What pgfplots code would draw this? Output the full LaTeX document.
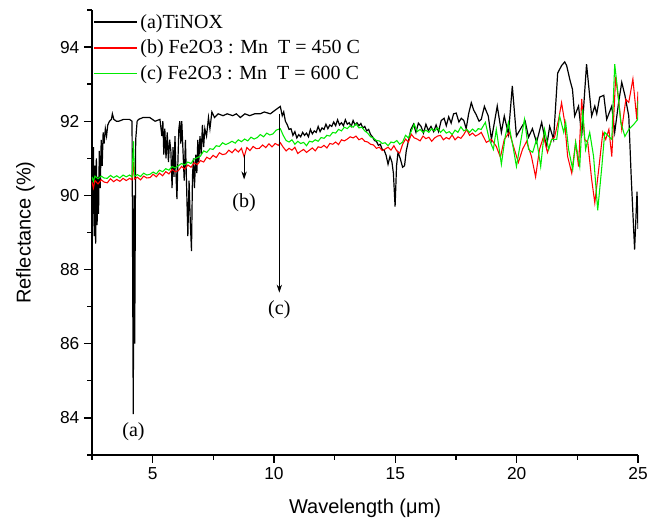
\documentclass[border=0pt]{standalone}
\usepackage{pgfplots}
\pgfplotsset{compat=1.18}
\usepackage{fontspec}
\setmainfont{Liberation Sans}
\newfontfamily\tnr{Liberation Serif}
\usetikzlibrary{arrows.meta}

\definecolor{cred}{RGB}{255,0,0}
\definecolor{cgreen}{RGB}{0,235,0}

\begin{document}
\begin{tikzpicture}
\begin{axis}[
    scale only axis,
    width=409.5pt, height=333.75pt,
    xmin=2.5, xmax=25, ymin=83, ymax=95,
    axis lines=left,
    axis line style={-, line width=1.1pt},
    tick align=outside,
    major tick length=6pt, minor tick length=3.5pt,
    tick style={black, line width=1pt},
    xtick={5,10,15,20,25},
    minor xtick={2.5,7.5,12.5,17.5,22.5},
    ytick={84,86,88,90,92,94},
    minor ytick={83,85,87,89,91,93,95},
    /pgf/number format/assume math mode=true,
    tick label style={font=\fontsize{13}{15}\selectfont},
    xlabel={Wavelength (μm)},
    ylabel={Reflectance (\%)},
    label style={font=\fontsize{15}{18}\selectfont},
    xlabel style={at={(axis description cs:0.5,-0.119)}, anchor=center},
    ylabel style={at={(axis description cs:-0.122,0.5)}, anchor=center},
    clip=true,
    legend cell align=left,
    legend style={at={(axis description cs:0.0,1.0)}, anchor=north west,
        draw=none, fill=none, font=\tnr\fontsize{15}{18}\selectfont,
        row sep=3.3pt, inner sep=1pt},
    legend image code/.code={\draw[#1, line width=1.1pt] (0pt,0pt) -- (32pt,0pt);},
]

% (a) TiNOX
\addplot[black, line width=0.9pt] table {
x y
2.50 91.6
2.53 89.5
2.56 91.3
2.59 88.9
2.62 90.8
2.65 88.7
2.68 91.0
2.71 89.2
2.74 90.5
2.77 89.5
2.80 91.2
2.84 90.2
2.88 91.5
2.92 90.8
2.96 91.7
3.00 91.4
3.05 91.8
3.10 91.6
3.15 91.9
3.22 92.0
3.30 92.05
3.34 92.2
3.40 92.05
3.51 92.0
3.60 92.0
3.80 92.05
4.05 92.05
4.15 92.0
4.20 84.1
4.23 90.0
4.26 86.0
4.30 91.5
4.36 92.0
4.42 92.05
4.60 92.1
4.88 92.1
5.10 92.0
5.30 92.05
5.38 91.6
5.42 92.0
5.46 91.1
5.50 91.8
5.55 91.0
5.60 91.7
5.65 90.9
5.70 91.5
5.75 91.2
5.80 90.2
5.84 91.3
5.88 90.5
5.92 91.6
5.96 90.6
6.00 89.9
6.04 90.9
6.08 91.8
6.12 92.0
6.16 91.4
6.20 92.0
6.25 91.2
6.30 90.4
6.35 91.5
6.40 90.2
6.45 88.9
6.50 90.4
6.55 89.3
6.60 88.5
6.64 90.5
6.68 91.0
6.72 90.2
6.78 91.1
6.82 90.6
6.86 91.5
6.90 90.9
6.95 91.6
7.00 91.1
7.05 91.9
7.10 91.3
7.15 91.8
7.22 91.6
7.30 92.1
7.36 91.8
7.44 92.25
7.55 92.1
7.70 92.2
7.90 92.15
8.07 92.2
8.30 92.15
8.45 92.2
8.61 92.1
8.80 92.2
9.00 92.15
9.20 92.2
9.43 92.2
9.60 92.25
9.85 92.2
10.05 92.3
10.26 92.4
10.34 92.15
10.40 92.25
10.47 92.0
10.55 91.9
10.62 91.78
10.70 91.80
10.78 91.62
10.86 91.72
10.94 91.55
11.02 91.64
11.10 91.58
11.18 91.70
11.26 91.62
11.34 91.68
11.42 91.58
11.50 91.78
11.58 91.66
11.66 91.74
11.74 91.70
11.82 91.86
11.90 91.72
11.98 91.82
12.06 91.78
12.14 91.92
12.22 91.80
12.30 91.90
12.38 91.86
12.46 91.98
12.54 91.88
12.62 92.04
12.70 91.90
12.78 91.96
12.86 91.88
12.94 92.04
13.02 91.92
13.10 91.96
13.18 91.86
13.26 92.02
13.34 91.90
13.42 91.96
13.50 91.88
13.58 91.94
13.66 91.82
13.74 91.86
13.82 91.74
13.90 91.78
13.98 91.64
14.06 91.58
14.14 91.48
14.22 91.46
14.30 91.35
14.38 91.38
14.46 91.24
14.54 91.22
14.62 91.08
14.70 90.84
14.78 91.05
14.86 90.9
14.92 90.6
14.99 89.7
15.05 90.8
15.11 91.16
15.20 91.0
15.30 90.76
15.38 90.8
15.45 91.2
15.55 91.5
15.64 91.78
15.75 91.92
15.85 91.7
15.95 91.95
16.06 91.86
16.16 91.68
16.26 91.92
16.36 91.75
16.47 91.86
16.58 91.72
16.68 91.9
16.78 91.72
16.89 92.02
17.01 92.08
17.10 91.88
17.20 92.12
17.30 91.95
17.40 92.2
17.51 92.22
17.62 91.98
17.72 92.08
17.82 92.02
17.92 91.8
18.02 92.2
18.13 92.5
18.23 92.3
18.33 92.18
18.45 92.0
18.54 92.05
18.67 92.4
18.83 92.14
18.96 91.51
19.20 92.41
19.37 91.7
19.49 92.14
19.66 91.65
19.82 92.95
19.99 91.6
20.20 91.84
20.35 92.0
20.49 91.57
20.65 91.8
20.82 91.43
21.03 91.97
21.23 91.3
21.36 91.86
21.52 91.51
21.69 93.3
21.85 93.5
21.98 93.6
22.06 93.5
22.20 93.1
22.30 92.86
22.39 92.14
22.55 92.41
22.68 91.6
22.88 93.54
23.09 92.14
23.22 92.41
23.30 92.2
23.42 92.65
23.59 92.7
23.71 92.05
23.92 92.41
24.04 91.7
24.20 92.5
24.33 93.05
24.46 92.7
24.62 92.14
24.72 90.5
24.86 88.54
24.96 90.1
25.00 89.1
};
\addlegendentry{(a)TiNOX}

% (b) Fe2O3:Mn 450 C
\addplot[cred, line width=0.8pt] table {
x y
2.50 90.36
2.56 90.20
2.62 90.40
2.75 90.31
2.88 90.42
3.00 90.36
3.13 90.34
3.26 90.45
3.39 90.37
3.52 90.43
3.65 90.38
3.78 90.46
3.91 90.40
4.05 90.46
4.15 90.42
4.21 90.90
4.25 90.44
4.37 90.49
4.50 90.42
4.63 90.52
4.76 90.47
4.89 90.48
5.02 90.57
5.15 90.50
5.28 90.60
5.41 90.53
5.54 90.64
5.67 90.58
5.80 90.70
5.93 90.64
6.06 90.67
6.19 90.78
6.32 90.71
6.45 90.82
6.58 90.76
6.71 90.88
6.84 90.83
6.97 90.94
7.10 90.90
7.23 91.03
7.36 90.98
7.49 91.08
7.62 91.02
7.75 91.15
7.88 91.10
8.01 91.12
8.14 91.22
8.27 91.15
8.40 91.25
8.53 91.17
8.66 91.27
8.77 91.04
8.88 91.29
9.01 91.21
9.14 91.32
9.27 91.26
9.40 91.27
9.53 91.36
9.66 91.29
9.79 91.39
9.92 91.31
10.05 91.40
10.18 91.35
10.26 91.42
10.38 91.30
10.50 91.20
10.62 91.27
10.74 91.22
10.86 91.30
10.98 91.13
11.10 91.19
11.22 91.24
11.34 91.16
11.46 91.22
11.58 91.28
11.70 91.20
11.82 91.31
11.94 91.29
12.06 91.35
12.18 91.28
12.30 91.40
12.42 91.38
12.54 91.44
12.66 91.37
12.78 91.50
12.90 91.47
13.02 91.52
13.14 91.58
13.26 91.55
13.38 91.60
13.50 91.50
13.62 91.54
13.74 91.46
13.86 91.44
13.98 91.38
14.10 91.36
14.22 91.27
14.34 91.30
14.46 91.21
14.58 91.25
14.70 91.30
14.82 91.22
14.94 91.34
15.06 91.20
15.18 91.14
15.30 91.38
15.42 91.52
15.54 91.44
15.66 91.65
15.78 91.55
15.90 91.52
16.02 91.47
16.14 91.60
16.26 91.53
16.38 91.57
16.50 91.46
16.62 91.55
16.74 91.60
16.86 91.62
16.98 91.50
17.10 91.56
17.22 91.52
17.34 91.63
17.46 91.50
17.58 91.58
17.70 91.54
17.82 91.64
17.94 91.78
18.06 91.62
18.18 91.68
18.30 91.60
18.42 91.64
18.54 91.70
18.75 91.43
18.96 91.51
19.16 91.32
19.33 91.03
19.49 91.51
19.70 91.70
19.87 91.32
20.07 90.89
20.24 91.24
20.41 91.46
20.61 91.05
20.78 90.50
20.94 91.24
21.11 91.59
21.27 91.16
21.44 91.51
21.56 91.57
21.73 92.05
21.85 92.50
21.98 91.97
22.10 91.05
22.27 90.60
22.43 91.43
22.55 90.78
22.68 92.60
22.80 91.51
22.93 91.43
23.09 90.43
23.22 89.80
23.38 90.70
23.55 91.70
23.67 91.51
23.80 91.78
23.92 91.05
24.08 93.20
24.21 92.51
24.33 91.78
24.50 92.59
24.62 92.51
24.79 93.14
24.95 92.05
25.00 92.80
};
\addlegendentry{(b) Fe2O3 : Mn~~T = 450 C}

% (c) Fe2O3:Mn 600 C
\addplot[cgreen, line width=0.8pt] table {
x y
2.50 90.50
2.56 90.38
2.62 90.52
2.75 90.45
2.88 90.52
3.00 90.47
3.13 90.46
3.26 90.54
3.39 90.48
3.52 90.53
3.65 90.47
3.78 90.55
3.91 90.50
4.05 90.55
4.15 90.50
4.21 91.46
4.25 90.52
4.37 90.56
4.50 90.51
4.63 90.60
4.76 90.55
4.89 90.57
5.02 90.63
5.15 90.58
5.28 90.68
5.41 90.64
5.54 90.72
5.67 90.68
5.80 90.78
5.93 90.74
6.06 90.80
6.19 90.86
6.32 90.82
6.45 90.90
6.58 90.86
6.71 90.98
6.84 91.02
6.97 91.06
7.10 91.20
7.23 91.16
7.36 91.26
7.49 91.24
7.62 91.34
7.75 91.32
7.88 91.42
8.01 91.37
8.14 91.41
8.27 91.46
8.40 91.41
8.53 91.50
8.66 91.45
8.79 91.52
8.92 91.47
9.05 91.57
9.18 91.52
9.31 91.56
9.44 91.64
9.57 91.58
9.70 91.68
9.83 91.63
9.96 91.66
10.09 91.76
10.26 91.80
10.38 91.62
10.50 91.48
10.62 91.44
10.74 91.50
10.86 91.38
10.98 91.46
11.10 91.40
11.22 91.43
11.34 91.34
11.46 91.46
11.58 91.44
11.70 91.50
11.82 91.46
11.94 91.56
12.06 91.54
12.18 91.62
12.30 91.60
12.42 91.70
12.54 91.68
12.66 91.78
12.78 91.74
12.90 91.84
13.02 91.80
13.14 91.88
13.26 91.84
13.38 91.93
13.50 91.82
13.62 91.84
13.74 91.74
13.86 91.68
13.98 91.58
14.10 91.55
14.22 91.48
14.34 91.47
14.46 91.40
14.58 91.42
14.70 91.34
14.82 91.44
14.94 91.42
15.06 91.48
15.18 91.38
15.30 91.44
15.42 91.62
15.54 91.55
15.66 91.74
15.78 91.92
15.90 91.72
16.02 91.78
16.14 91.70
16.26 91.76
16.38 91.70
16.50 91.80
16.62 91.74
16.74 91.82
16.86 91.70
16.98 91.78
17.10 91.68
17.22 91.72
17.34 91.64
17.46 91.76
17.58 91.70
17.70 91.85
17.82 91.74
17.94 91.78
18.06 91.70
18.18 91.79
18.30 91.72
18.42 91.80
18.54 91.78
18.71 91.97
18.87 91.51
19.04 91.24
19.16 91.78
19.37 90.84
19.53 91.59
19.66 91.97
19.87 91.24
19.99 90.78
20.16 91.43
20.32 92.05
20.49 91.24
20.66 91.16
20.82 91.51
20.99 90.78
21.15 91.78
21.32 91.24
21.44 91.51
21.65 91.51
21.77 92.14
21.94 91.70
22.02 91.97
22.14 91.24
22.31 90.70
22.43 91.43
22.60 90.78
22.72 92.32
22.84 91.24
23.01 91.70
23.17 91.05
23.34 89.60
23.51 90.78
23.63 91.70
23.80 91.59
23.92 91.51
24.04 93.54
24.17 92.78
24.29 91.97
24.46 91.59
24.62 91.78
24.83 91.92
24.99 92.05
25.00 92.54
};
\addlegendentry{(c) Fe2O3 : Mn~~T = 600 C}

% annotations
\draw[-{Stealth[length=6pt,width=4pt]}, line width=0.6pt] (axis cs:8.77,91.1) -- (axis cs:8.77,90.43);
\node[font=\tnr\fontsize{15}{18}\selectfont] at (axis cs:8.77,89.8) {(b)};
\draw[-{Stealth[length=6pt,width=4pt]}, line width=0.6pt] (axis cs:10.22,92.2) -- (axis cs:10.22,87.38);
\node[font=\tnr\fontsize{15}{18}\selectfont] at (axis cs:10.22,86.92) {(c)};
\node[font=\tnr\fontsize{15}{18}\selectfont] at (axis cs:4.21,83.62) {(a)};
\end{axis}
\pgfresetboundingbox
\path (-69pt,-51.75pt) rectangle (416.25pt,341.25pt);
\end{tikzpicture}
\end{document}
